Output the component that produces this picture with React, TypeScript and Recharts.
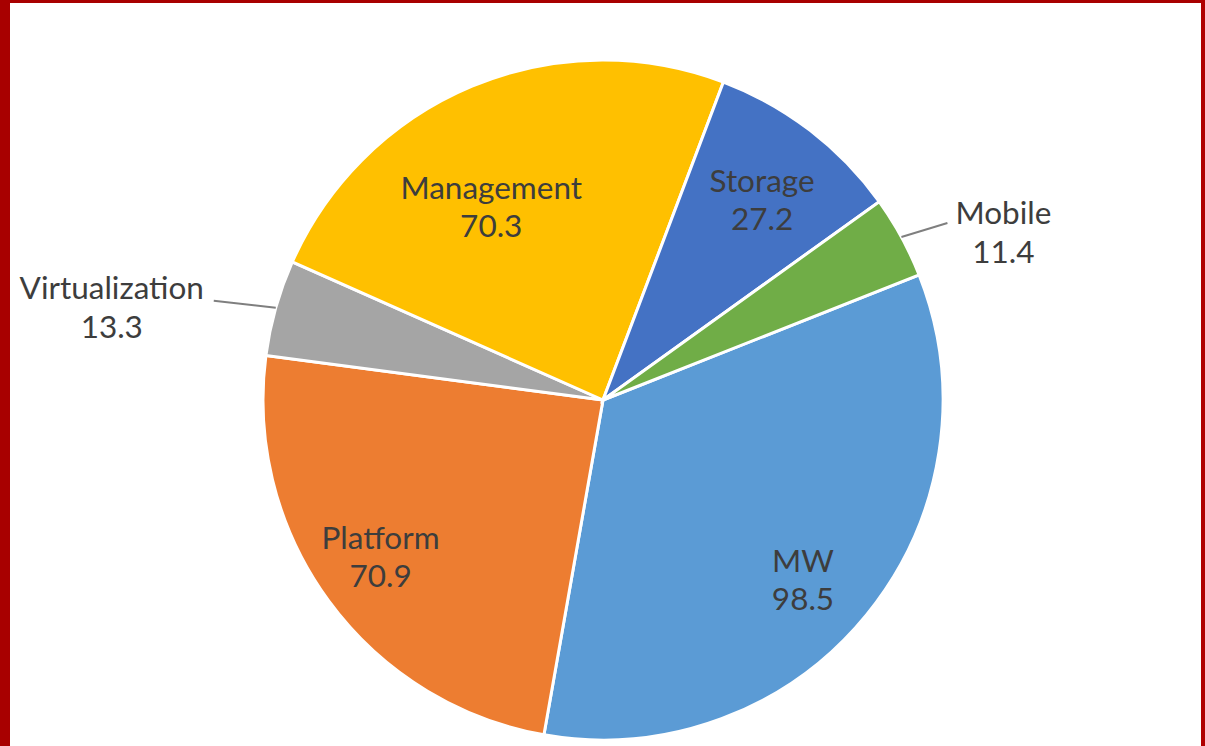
import React from 'react';
import { PieChart, Pie, Cell } from 'recharts';

const categories = ['MW', 'Platform', 'Virtualization', 'Management', 'Storage', 'Mobile'];
const values = [98.5, 70.9, 13.3, 70.3, 27.2, 11.4];
const colors = ['#5B9BD5', '#ED7D31', '#A5A5A5', '#FFC000', '#4472C4', '#70AD47'];

const data = categories.map((name, i) => ({ name, value: values[i] }));

// label layout: inside (ratio of radius, angle tweak) or outside with leader line
const labelLayout: Record<string, { mode: 'in' | 'out'; r: number; da: number }> = {
  MW: { mode: 'in', r: 0.803, da: -3.7 },
  Platform: { mode: 'in', r: 0.811, da: 0 },
  Management: { mode: 'in', r: 0.641, da: 8.2 },
  Storage: { mode: 'in', r: 0.738, da: -1.8 },
  Virtualization: { mode: 'out', r: 1, da: 0 },
  Mobile: { mode: 'out', r: 1, da: 0 },
};

const RAD = Math.PI / 180;
const FONT = 'Lato, "Open Sans", sans-serif';
const TEXT = '#3d3d3d';
const FS = 31.5;

const renderLabel = (props: any) => {
  const { cx, cy, midAngle, outerRadius, name, value } = props;
  const lay = labelLayout[name];
  if (lay.mode === 'in') {
    const a = (midAngle + lay.da) * RAD;
    const x = cx + outerRadius * lay.r * Math.cos(a);
    const y = cy - outerRadius * lay.r * Math.sin(a);
    return (
      <text x={x} y={y} textAnchor="middle" fill={TEXT} fontFamily={FONT} fontSize={FS}>
        <tspan x={x} dy={-14}>{name}</tspan>
        <tspan x={x} dy={38}>{value.toFixed(1)}</tspan>
      </text>
    );
  }
  const a = midAngle * RAD;
  const sx = cx + outerRadius * Math.cos(a);
  const sy = cy - outerRadius * Math.sin(a);
  const right = Math.cos(a) > 0;
  const ex = right ? sx + 46 : sx - 62;
  const ey = right ? sy - 14 : sy - 7;
  const tx = right ? ex + 56 : ex - 102;
  return (
    <g>
      <polyline points={`${sx},${sy} ${ex},${ey}`} stroke="#7f7f7f" strokeWidth={2} fill="none" />
      <text x={tx} y={ey} textAnchor="middle" fill={TEXT} fontFamily={FONT} fontSize={FS}>
        <tspan x={tx} dy={right ? 1 : -2}>{name}</tspan>
        <tspan x={tx} dy={39}>{value.toFixed(1)}</tspan>
      </text>
    </g>
  );
};

export default function App() {
  return (
    <div style={{ position: 'absolute', left: 0, top: 0, width: 1205, height: 746, background: '#fff', overflow: 'hidden' }}>
      <div style={{ position: 'absolute', left: 0, top: 0, width: 10, height: 746, background: '#A80000' }} />
      <div style={{ position: 'absolute', left: 0, top: 0, width: 1205, height: 3, background: '#A80000' }} />
      <div style={{ position: 'absolute', left: 1201, top: 0, width: 4, height: 746, background: '#B00000' }} />
      <div style={{ position: 'absolute', left: 0, top: 0 }}>
        <PieChart width={1205} height={746} margin={{ top: 0, right: 0, bottom: 0, left: 0 }}>
          <Pie
            data={data}
            dataKey="value"
            nameKey="name"
            cx={603}
            cy={400}
            outerRadius={340}
            startAngle={21.6}
            endAngle={-338.4}
            stroke="#ffffff"
            strokeWidth={3}
            label={renderLabel}
            labelLine={false}
            isAnimationActive={false}
          >
            {data.map((d, i) => (
              <Cell key={d.name} fill={colors[i]} />
            ))}
          </Pie>
        </PieChart>
      </div>
    </div>
  );
}
